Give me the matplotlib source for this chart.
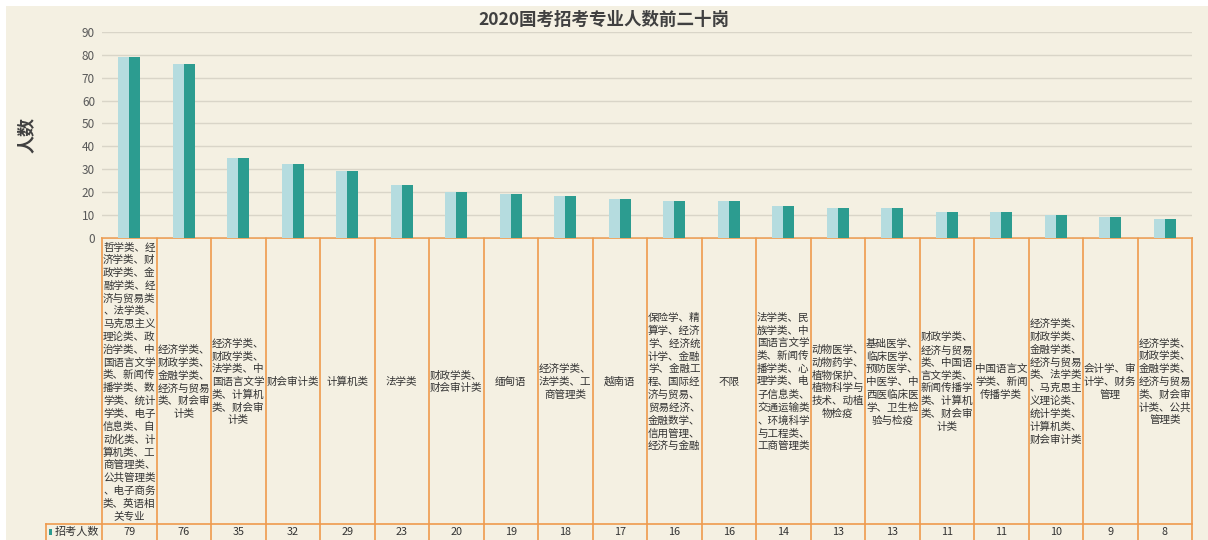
import matplotlib
matplotlib.use("Agg")
import matplotlib.pyplot as plt
from matplotlib.patches import Rectangle
import numpy as np

plt.rcParams['font.family'] = ['Noto Sans CJK SC', 'DejaVu Sans']

title = "2020国考招考专业人数前二十岗"
ylabel = "人数"
series_name = "招考人数"
categories = [
    "哲学类、经\n济学类、财\n政学类、金\n融学类、经\n济与贸易类\n、法学类、\n马克思主义\n理论类、政\n治学类、中\n国语言文学\n类、新闻传\n播学类、数\n学类、统计\n学类、电子\n信息类、自\n动化类、计\n算机类、工\n商管理类、\n公共管理类\n、电子商务\n类、英语相\n关专业",
    "经济学类、\n财政学类、\n金融学类、\n经济与贸易\n类、财会审\n计类",
    "经济学类、\n财政学类、\n法学类、中\n国语言文学\n类、计算机\n类、财会审\n计类",
    "财会审计类",
    "计算机类",
    "法学类",
    "财政学类、\n财会审计类",
    "缅甸语",
    "经济学类、\n法学类、工\n商管理类",
    "越南语",
    "保险学、精\n算学、经济\n学、经济统\n计学、金融\n学、金融工\n程、国际经\n济与贸易、\n贸易经济、\n金融数学、\n信用管理、\n经济与金融",
    "不限",
    "法学类、民\n族学类、中\n国语言文学\n类、新闻传\n播学类、心\n理学类、电\n子信息类、\n交通运输类\n、环境科学\n与工程类、\n工商管理类",
    "动物医学、\n动物药学、\n植物保护、\n植物科学与\n技术、动植\n物检疫",
    "基础医学、\n临床医学、\n预防医学、\n中医学、中\n西医临床医\n学、卫生检\n验与检疫",
    "财政学类、\n经济与贸易\n类、中国语\n言文学类、\n新闻传播学\n类、计算机\n类、财会审\n计类",
    "中国语言文\n学类、新闻\n传播学类",
    "经济学类、\n财政学类、\n金融学类、\n经济与贸易\n类、法学类\n、马克思主\n义理论类、\n统计学类、\n计算机类、\n财会审计类",
    "会计学、审\n计学、财务\n管理",
    "经济学类、\n财政学类、\n金融学类、\n经济与贸易\n类、财会审\n计类、公共\n管理类",
]
values = [79, 76, 35, 32, 29, 23, 20, 19, 18, 17, 16, 16, 14, 13, 13, 11, 11, 10, 9, 8]
yticks = [0, 10, 20, 30, 40, 50, 60, 70, 80, 90]

W, H = 1208, 540
BG = "#F4F0E2"
LIGHT = "#B5DCDF"
DARK = "#2C9C90"
ORANGE = "#EE9A4D"
GRID = "#D9D5C8"
TXT = "#404040"

fig = plt.figure(figsize=(W / 100, H / 100), dpi=100, facecolor="white")

# overlay axes in pixel coordinates
ov = fig.add_axes([0, 0, 1, 1])
ov.set_xlim(0, W)
ov.set_ylim(H, 0)
ov.axis("off")
ov.add_patch(Rectangle((6, 6), W - 6, H - 6, facecolor=BG, edgecolor="none", zorder=0))

# plot area
x_left, x_right = 102, 1192
y_top, y_bot = 32, 237.5
ax = fig.add_axes([x_left / W, 1 - y_bot / H, (x_right - x_left) / W, (y_bot - y_top) / H])
ax.patch.set_alpha(0)
n = len(values)
x = np.arange(n)
ax.bar(x - 0.1, values, width=0.2, color=LIGHT, zorder=3)
ax.bar(x + 0.1, values, width=0.2, color=DARK, zorder=3)
ax.set_xlim(-0.5, n - 0.5)
ax.set_ylim(0, 90)
ax.set_yticks(yticks)
ax.set_yticklabels([str(t) for t in yticks], fontsize=8.5, color="#595959")
ax.tick_params(axis="y", length=0, pad=5)
ax.set_xticks([])
ax.grid(axis="y", color=GRID, lw=1, zorder=0)
for s in ax.spines.values():
    s.set_visible(False)

# title and y label
fig.text(0.5, 1 - 20 / H, title, ha="center", va="center", fontsize=12.6, fontweight="bold", color=TXT)
fig.text(26 / W, 1 - 135 / H, ylabel, ha="center", va="center", rotation=90, fontsize=13,
         fontweight="bold", color=TXT)

# data table
cw = (x_right - x_left) / n
t_top, t_mid, t_bot = 238, 524, 541
ov.plot([x_left, x_right], [t_top, t_top], color=ORANGE, lw=1.2, zorder=5)
ov.plot([46, x_right], [t_mid, t_mid], color=ORANGE, lw=1.2, zorder=5)
ov.plot([46, 46], [t_mid, t_bot], color=ORANGE, lw=1.2, zorder=5)
for i in range(n + 1):
    xx = x_left + i * cw
    ov.plot([xx, xx], [t_top, t_bot], color=ORANGE, lw=1.2, zorder=5)
for i, (lab, v) in enumerate(zip(categories, values)):
    cx = x_left + (i + 0.5) * cw
    ov.text(cx, (t_top + t_mid) / 2 + 1, lab, ha="center", va="center", fontsize=7.6,
            color="#333333", linespacing=1.33, multialignment="center", zorder=6)
    ov.text(cx, 532, str(v), ha="center", va="center", fontsize=7.8, color="#333333", zorder=6)
ov.add_patch(Rectangle((49, 529), 3, 6, facecolor=DARK, edgecolor="none", zorder=6))
ov.text(55, 532, series_name, ha="left", va="center", fontsize=8, color="#333333", zorder=6)

fig.savefig("out.png", dpi=100, facecolor="white")
